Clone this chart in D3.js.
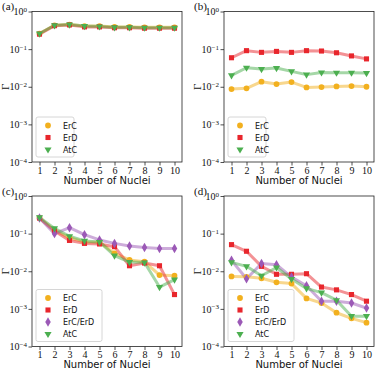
<!DOCTYPE html>
<html>
<head>
<meta charset="utf-8">
<style>
  body { margin: 0; background: white; }
  .frame { fill: none; stroke: #222; stroke-width: 0.8; }
  .tick line { stroke: #222; stroke-width: 0.8; }
  .tick text { font-family: "Liberation Serif", "DejaVu Serif", serif; font-size: 10px; fill: #111; }
  .xlabel { font-family: "DejaVu Sans", sans-serif; font-size: 10px; fill: #111; }
  .ylabel, .plabel { font-family: "Liberation Serif", "DejaVu Serif", serif; font-size: 11px; fill: #111; }
  .legend text { font-family: "DejaVu Sans", sans-serif; font-size: 8px; fill: #111; }
</style>
</head>
<body>
<svg id="container" width="375" height="369"></svg>
<script src="https://cdn.jsdelivr.net/npm/d3@7"></script>
<script>
  // number of nuclei (x categories)
  let nuclei = [1, 2, 3, 4, 5, 6, 7, 8, 9, 10]
  let yTicks = [1, 1e-1, 1e-2, 1e-3, 1e-4]
  let yTickExp = ["0", "\u22121", "\u22122", "\u22123", "\u22124"]

  // (a)
  let a_ErC = [0.26, 0.43, 0.45, 0.41, 0.41, 0.39, 0.39, 0.38, 0.38, 0.38]
  let a_ErD = [0.25, 0.42, 0.44, 0.39, 0.39, 0.37, 0.37, 0.36, 0.36, 0.36]
  let a_AtC = [0.26, 0.43, 0.45, 0.41, 0.40, 0.38, 0.38, 0.37, 0.37, 0.37]

  // (b)
  let b_ErC = [0.0087, 0.0091, 0.0136, 0.0118, 0.0133, 0.0096, 0.0098, 0.0102, 0.0104, 0.0100]
  let b_ErD = [0.059, 0.091, 0.082, 0.087, 0.082, 0.091, 0.089, 0.080, 0.066, 0.055]
  let b_AtC = [0.020, 0.032, 0.0295, 0.0314, 0.0256, 0.021, 0.024, 0.0236, 0.0236, 0.0231]

  // (c)
  let c_ErC = [0.26, 0.122, 0.078, 0.060, 0.059, 0.030, 0.020, 0.018, 0.0079, 0.0076]
  let c_ErD = [0.26, 0.117, 0.066, 0.055, 0.053, 0.045, 0.014, 0.0165, 0.014, 0.0024]
  let c_ErCErD = [0.26, 0.10, 0.144, 0.094, 0.068, 0.055, 0.047, 0.043, 0.040, 0.040]
  let c_AtC = [0.27, 0.138, 0.085, 0.064, 0.060, 0.026, 0.0176, 0.017, 0.0038, 0.0060]

  // (d)
  let d_ErC = [0.0073, 0.0071, 0.0065, 0.0051, 0.0047, 0.0019, 0.00143, 0.00079, 0.00056, 0.00043]
  let d_ErD = [0.051, 0.034, 0.0135, 0.0083, 0.0083, 0.0086, 0.0038, 0.0032, 0.0024, 0.0016]
  let d_ErCErD = [0.0195, 0.0063, 0.016, 0.0149, 0.0070, 0.0041, 0.0016, 0.0016, 0.00143, 0.00105]
  let d_AtC = [0.0172, 0.0135, 0.0076, 0.0126, 0.0062, 0.0035, 0.0027, 0.0017, 0.00064, 0.00064]

  let colors = { ErC: "#f2b01e", ErD: "#e8262c", "ErC/ErD": "#9b59b6", AtC: "#4caf50" }
  let symbols = { ErC: d3.symbolCircle, ErD: d3.symbolSquare, "ErC/ErD": d3.symbolDiamond, AtC: d3.symbolTriangle }

  let panels = [
    { label: "(a)", x: 32, y: 11.5, series: [["ErC", a_ErC], ["ErD", a_ErD], ["AtC", a_AtC]] },
    { label: "(b)", x: 224, y: 11.5, series: [["ErC", b_ErC], ["ErD", b_ErD], ["AtC", b_AtC]] },
    { label: "(c)", x: 32, y: 196, series: [["ErC", c_ErC], ["ErD", c_ErD], ["ErC/ErD", c_ErCErD], ["AtC", c_AtC]] },
    { label: "(d)", x: 224, y: 196, series: [["ErC", d_ErC], ["ErD", d_ErD], ["ErC/ErD", d_ErCErD], ["AtC", d_AtC]] }
  ]

  let w = 150
  let h = 150.5
  let svg = d3.select("#container")

  panels.forEach(drawPanel)

  function drawPanel(p) {
    let g = svg.append("g").attr("transform", "translate(" + p.x + "," + p.y + ")")

    let x = d3.scaleLinear().domain([0.5, 10.5]).range([0, w])
    let y = d3.scaleLog().domain([1e-4, 1]).range([h, 0])

    // lines (semi transparent, thick)
    let line = d3.line().x((d, i) => x(nuclei[i])).y(d => y(d))
    p.series.forEach(s => {
      g.append("path")
        .attr("d", line(s[1]))
        .attr("fill", "none")
        .attr("stroke", colors[s[0]])
        .attr("stroke-width", 3)
        .attr("stroke-opacity", 0.5)
        .attr("stroke-linejoin", "round")
    })

    // markers
    p.series.forEach(s => {
      g.append("g").selectAll("path")
        .data(s[1])
        .enter()
        .append("path")
          .attr("d", d3.symbol().type(symbols[s[0]]).size(s[0] == "AtC" ? 22 : 26))
          .attr("transform", (d, i) => "translate(" + x(nuclei[i]) + "," + y(d) + ")" + (s[0] == "AtC" ? " rotate(180)" : ""))
          .attr("fill", colors[s[0]])
    })

    // axes
    let xAxis = d3.axisBottom(x).tickValues(nuclei).tickSize(3.5).tickPadding(1)
    g.append("g").attr("transform", "translate(0," + h + ")").call(xAxis)
      .call(a => a.select(".domain").remove())

    let yAxis = d3.axisLeft(y).tickValues(yTicks).tickSize(3.5).tickPadding(2).tickFormat("")
    let ya = g.append("g").call(yAxis)
    ya.select(".domain").remove()
    ya.selectAll(".tick").append("text")
      .attr("x", -5)
      .attr("dy", "0.32em")
      .attr("text-anchor", "end")
      .each(function (d, i) {
        let t = d3.select(this)
        t.append("tspan").text("10")
        t.append("tspan").attr("dy", "-0.45em").attr("font-size", "7px").text(yTickExp[i])
      })

    g.append("rect").attr("class", "frame").attr("width", w).attr("height", h)

    // labels
    g.append("text").attr("class", "xlabel")
      .attr("x", w / 2).attr("y", h + 21.5).attr("text-anchor", "middle")
      .text("Number of Nuclei")

    g.append("text").attr("class", "ylabel")
      .attr("transform", "translate(-23," + (h / 2) + ") rotate(-90)")
      .attr("text-anchor", "middle")
      .text("\u0393")

    g.append("text").attr("class", "plabel")
      .attr("x", -30).attr("y", -1.5)
      .text(p.label)

    // legend
    let n = p.series.length
    let lw = n == 4 ? 66 : 38
    let lg = g.append("g").attr("class", "legend").attr("transform", "translate(4," + (h - 8 - n * 12 - 1) + ")")
    lg.append("rect")
      .attr("width", lw).attr("height", n * 12 + 4)
      .attr("rx", 2)
      .attr("fill", "white").attr("fill-opacity", 0.8)
      .attr("stroke", "#cccccc").attr("stroke-width", 0.8)
    p.series.forEach((s, i) => {
      lg.append("path")
        .attr("d", d3.symbol().type(symbols[s[0]]).size(s[0] == "AtC" ? 22 : 26))
        .attr("transform", "translate(12," + (8.5 + i * 12) + ")" + (s[0] == "AtC" ? " rotate(180)" : ""))
        .attr("fill", colors[s[0]])
      lg.append("text").attr("x", 27).attr("y", 11.5 + i * 12).text(s[0])
    })
  }
</script>
</body>
</html>
